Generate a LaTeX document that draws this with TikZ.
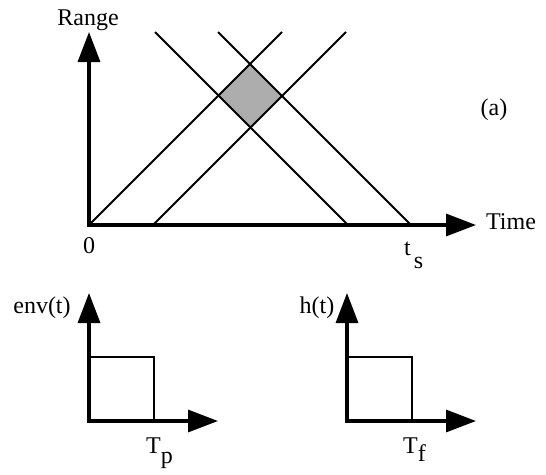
\documentclass[tikz,border=0pt]{standalone}
\usepackage{fontspec}
\setmainfont{Liberation Serif}
\usetikzlibrary{arrows.meta,intersections}
\begin{document}
\begin{tikzpicture}[x=1pt,y=-1pt,
  axis/.style={line width=3.3pt, line cap=rect, -{Triangle[length=30pt,width=22pt]}},
  ray/.style={line width=2.1pt},
  pulse/.style={line width=1.6pt},
  lbl/.style={font=\fontsize{24}{28}\selectfont, inner sep=0pt, anchor=base},
  shade/.style={fill=black!32}]
\useasboundingbox (0,0) rectangle (546,474);
% --- top graph coordinates
\coordinate (O) at (89,225);
\coordinate (Ytip) at (89,32);
\coordinate (Xtip) at (476,225);
\coordinate (u1s) at (89,225);  \coordinate (u1e) at (282,32);
\coordinate (u2s) at (153,225); \coordinate (u2e) at (346,32);
\coordinate (d1s) at (155,32);  \coordinate (d1e) at (348,225);
\coordinate (d2s) at (218,32);  \coordinate (d2e) at (411,225);
\path[name path=up1] (u1s) -- (u1e);
\path[name path=up2] (u2s) -- (u2e);
\path[name path=dn1] (d1s) -- (d1e);
\path[name path=dn2] (d2s) -- (d2e);
\path[name intersections={of=up1 and dn2, by=dtop}];
\path[name intersections={of=up1 and dn1, by=dleft}];
\path[name intersections={of=up2 and dn2, by=dright}];
\path[name intersections={of=up2 and dn1, by=dbot}];
\fill[shade] (dtop) -- (dright) -- (dbot) -- (dleft) -- cycle;
\draw[ray] (u1s) -- (u1e);
\draw[ray] (u2s) -- (u2e);
\draw[ray] (d1s) -- (d1e);
\draw[ray] (d2s) -- (d2e);
\draw[axis] (O) -- (Ytip);
\draw[axis] (O) -- (Xtip);
\node[lbl] (range) at (88,25) {Range};
\node[lbl] (time) at (511,229) {Time};
\node[lbl] (a) at (494,115) {(a)};
\node[lbl] (zero) at (89,253) {0};
\node[lbl, anchor=base west] (ts) at (404,255) {t\hspace{3pt}\raisebox{-13pt}{s}};
% --- bottom left graph
\coordinate (O2) at (89,421);
\coordinate (Y2) at (89,293);
\coordinate (X2) at (218,421);
\coordinate (p1) at (89,357);
\coordinate (p2) at (154,357);
\coordinate (p3) at (154,421);
\draw[pulse] (p1) -- (p2) -- (p3);
\draw[axis] (O2) -- (Y2);
\draw[axis] (O2) -- (X2);
\node[lbl] (env) at (42,313) {env(t)};
\node[lbl, anchor=base west] (tp) at (146,453) {T\raisebox{-10pt}{p}};
% --- bottom right graph
\coordinate (O3) at (347,421);
\coordinate (Y3) at (347,293);
\coordinate (X3) at (476,421);
\coordinate (q1) at (347,357);
\coordinate (q2) at (412,357);
\coordinate (q3) at (412,421);
\draw[pulse] (q1) -- (q2) -- (q3);
\draw[axis] (O3) -- (Y3);
\draw[axis] (O3) -- (X3);
\node[lbl] (ht) at (317,313) {h(t)};
\node[lbl, anchor=base west] (tf) at (403,453) {T\raisebox{-8pt}{f}};
\end{tikzpicture}
\end{document}
